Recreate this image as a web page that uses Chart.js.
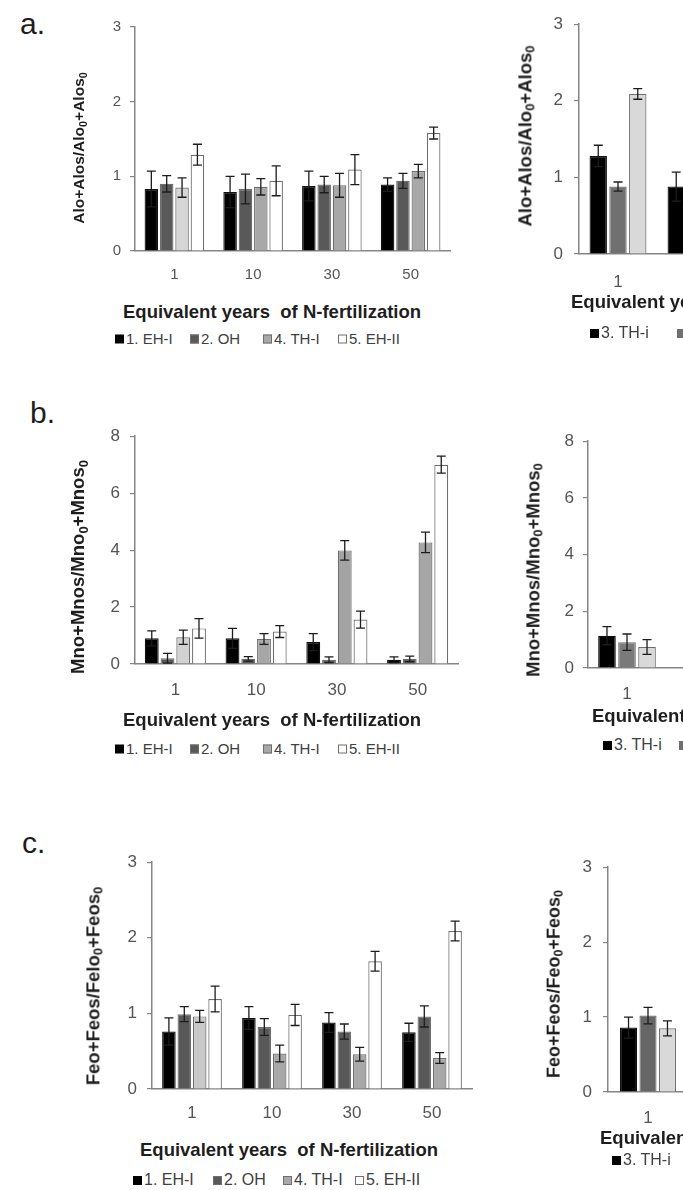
<!DOCTYPE html>
<html>
<head>
<meta charset="utf-8">
<script src="https://cdn.jsdelivr.net/npm/chart.js@4.4.1/dist/chart.umd.min.js"></script>
<style>
html, body { margin: 0; padding: 0; overflow: hidden; background: #fff; }
body { width: 683px; height: 1190px; position: relative; font-family: "Liberation Sans", Arial, sans-serif; }
canvas { position: absolute; }
.t { position: absolute; white-space: nowrap; line-height: 1; color: #1e1e1e; }
.letter { font-size: 30px; }
.xt { font-weight: bold; transform: translateY(-50%); }
.yt { font-weight: bold; transform: translate(-50%, -50%) rotate(-90deg); }
.yt sub { font-size: 0.7em; vertical-align: -0.25em; }
.leg { font-size: 15px; color: #404040; transform: translateY(-50%); }
.leg i { display: inline-block; width: 9px; height: 9px; margin-right: 2px; box-sizing: border-box; vertical-align: 0; }
</style>
</head>
<body>

<div class="t letter" style="left:20px;top:9px">a.</div>
<div class="t letter" style="left:30px;top:398px">b.</div>
<div class="t letter" style="left:22px;top:828px">c.</div>

<canvas id="aLeft"></canvas>
<canvas id="aRight"></canvas>
<canvas id="bLeft"></canvas>
<canvas id="bRight"></canvas>
<canvas id="cLeft"></canvas>
<canvas id="cRight"></canvas>

<div class="t yt" style="left:80px;top:148px;font-size:15.5px">Alo+Alos/Alo<sub>0</sub>+Alos<sub>0</sub></div>
<div class="t yt" style="left:527px;top:136px;font-size:18.5px">Alo+Alos/Alo<sub>0</sub>+Alos<sub>0</sub></div>
<div class="t yt" style="left:80px;top:567px;font-size:18.5px">Mno+Mnos/Mno<sub>0</sub>+Mnos<sub>0</sub></div>
<div class="t yt" style="left:535px;top:570px;font-size:18.5px">Mno+Mnos/Mno<sub>0</sub>+Mnos<sub>0</sub></div>
<div class="t yt" style="left:95px;top:986px;font-size:18.5px">Feo+Feos/Felo<sub>0</sub>+Feos<sub>0</sub></div>
<div class="t yt" style="left:555px;top:984px;font-size:18px">Feo+Feos/Feo<sub>0</sub>+Feos<sub>0</sub></div>

<div class="t xt" style="left:123px;top:312px;font-size:18.5px">Equivalent years&nbsp; of N-fertilization</div>
<div class="t xt" style="left:571px;top:302px;font-size:18.5px">Equivalent years&nbsp; of N-fertilization</div>
<div class="t xt" style="left:123px;top:720px;font-size:18.5px">Equivalent years&nbsp; of N-fertilization</div>
<div class="t xt" style="left:592px;top:716px;font-size:18.5px">Equivalent years&nbsp; of N-fertilization</div>
<div class="t xt" style="left:140px;top:1150px;font-size:18.5px">Equivalent years&nbsp; of N-fertilization</div>
<div class="t xt" style="left:600px;top:1138px;font-size:18.5px">Equivalent years&nbsp; of N-fertilization</div>

<div id="legends"></div>

<script>
/*  Data  */

const YEARS = ["1", "10", "30", "50"];
const LEFT_SITES = ["1. EH-I", "2. OH", "4. TH-I", "5. EH-II"];
const RIGHT_SITES = ["3. TH-i", "", ""];

// a. Alo + Alos
const ALO_EH1 = [0.83, 0.79, 0.87, 0.89];
const ALO_EH1_ERR = [0.24, 0.21, 0.20, 0.09];
const ALO_OH = [0.90, 0.83, 0.89, 0.94];
const ALO_OH_ERR = [0.11, 0.20, 0.11, 0.10];
const ALO_TH1 = [0.85, 0.86, 0.88, 1.07];
const ALO_TH1_ERR = [0.13, 0.11, 0.16, 0.09];
const ALO_EH2 = [1.29, 0.94, 1.09, 1.58];
const ALO_EH2_ERR = [0.14, 0.20, 0.20, 0.08];

const ALO_R1 = [1.28, 0.88, null, null];
const ALO_R1_ERR = [0.14, 0.19, null, null];
const ALO_R2 = [0.88, null, null, null];
const ALO_R2_ERR = [0.06, null, null, null];
const ALO_R3 = [2.09, null, null, null];
const ALO_R3_ERR = [0.07, null, null, null];

// b. Mno + Mnos
const MNO_EH1 = [0.90, 0.90, 0.77, 0.15];
const MNO_EH1_ERR = [0.26, 0.35, 0.30, 0.10];
const MNO_OH = [0.20, 0.18, 0.15, 0.18];
const MNO_OH_ERR = [0.17, 0.08, 0.10, 0.10];
const MNO_TH1 = [0.94, 0.88, 3.99, 4.27];
const MNO_TH1_ERR = [0.25, 0.19, 0.34, 0.36];
const MNO_EH2 = [1.25, 1.14, 1.56, 7.00];
const MNO_EH2_ERR = [0.34, 0.21, 0.30, 0.30];

const MNO_R1 = [1.14, null, null, null];
const MNO_R1_ERR = [0.32, null, null, null];
const MNO_R2 = [0.91, null, null, null];
const MNO_R2_ERR = [0.29, null, null, null];
const MNO_R3 = [0.74, null, null, null];
const MNO_R3_ERR = [0.26, null, null, null];

// c. Feo + Feos
const FEO_EH1 = [0.76, 0.94, 0.88, 0.75];
const FEO_EH1_ERR = [0.18, 0.15, 0.13, 0.12];
const FEO_OH = [0.99, 0.82, 0.76, 0.96];
const FEO_OH_ERR = [0.10, 0.11, 0.10, 0.14];
const FEO_TH1 = [0.96, 0.47, 0.46, 0.41];
const FEO_TH1_ERR = [0.08, 0.11, 0.09, 0.07];
const FEO_EH2 = [1.19, 0.98, 1.69, 2.09];
const FEO_EH2_ERR = [0.17, 0.14, 0.13, 0.13];

const FEO_R1 = [0.86, null, null, null];
const FEO_R1_ERR = [0.14, null, null, null];
const FEO_R2 = [1.02, null, null, null];
const FEO_R2_ERR = [0.11, null, null, null];
const FEO_R3 = [0.85, null, null, null];
const FEO_R3_ERR = [0.10, null, null, null];


/*  Styles  */

const BLACK = "#000000";
const DARK = "#595959";
const MID = "#a8a8a8";
const LIGHT = "#d6d6d6";
const WHITE = "#ffffff";
const EDGE = "#6e6e6e";
const AXIS = "#858585";
const TICK_TXT = "#555555";
const FONT = "'Liberation Sans', Arial, sans-serif";


/*  Error bars  */

const errorBars = {
    id: "errorBars",
    afterDatasetsDraw(chart) {
        const ctx = chart.ctx;
        const y = chart.scales.y;
        ctx.save();
        ctx.strokeStyle = "#1c1c1c";
        ctx.lineWidth = 1.3;
        chart.data.datasets.forEach((ds, i) => {
            const meta = chart.getDatasetMeta(i);
            meta.data.forEach((bar, j) => {
                const v = ds.data[j], e = ds.err ? ds.err[j] : null;
                if (v == null || e == null) return;
                const yt = y.getPixelForValue(v + e);
                const yb = y.getPixelForValue(Math.max(0, v - e));
                const x = bar.x, w = 4.5;
                ctx.beginPath();
                ctx.moveTo(x, yt); ctx.lineTo(x, yb);
                ctx.moveTo(x - w, yt); ctx.lineTo(x + w, yt);
                ctx.moveTo(x - w, yb); ctx.lineTo(x + w, yb);
                ctx.stroke();
            });
        });
        ctx.restore();
    }
};


/*  Graphique  */

function series(label, data, err, color) {
    return {
        label: label,
        data: data,
        err: err,
        backgroundColor: color,
        borderColor: Array.isArray(color) ? EDGE : (color === BLACK ? "#111" : EDGE),
        borderWidth: 1.2
    };
}

function barChart(id, box, yMax, yStep, datasets, catPct, fs) {
    const padL = 70, padT = 12, padR = 10, padB = 45;
    const cv = document.getElementById(id);
    cv.width = box.R - box.L + padL + padR;
    cv.height = box.B - box.T + padT + padB;
    cv.style.left = (box.L - padL) + "px";
    cv.style.top = (box.T - padT) + "px";

    new Chart(cv, {
        type: "bar",
        data: { labels: YEARS, datasets: datasets },
        options: {
            responsive: false,
            animation: false,
            devicePixelRatio: 1,
            layout: { padding: { left: 0, top: padT, right: padR, bottom: 0 } },
            plugins: { legend: { display: false }, tooltip: { enabled: false } },
            datasets: { bar: { categoryPercentage: catPct, barPercentage: 0.88 } },
            scales: {
                x: {
                    grid: { display: false, drawTicks: false },
                    border: { display: true, color: AXIS, width: 1.5 },
                    ticks: { color: TICK_TXT, font: { family: FONT, size: fs }, padding: box.xPad },
                    afterFit: s => { s.height = padB; }
                },
                y: {
                    min: 0, max: yMax,
                    grid: { drawOnChartArea: false, drawTicks: true, tickLength: 5, color: AXIS, lineWidth: 1.2 },
                    border: { display: true, color: AXIS, width: 1.5 },
                    ticks: { stepSize: yStep, color: TICK_TXT, font: { family: FONT, size: fs }, padding: box.yPad },
                    afterFit: s => { s.width = padL; }
                }
            }
        },
        plugins: [errorBars]
    });
}

barChart("aLeft", { L: 135, T: 21, B: 251, R: 450, xPad: 15, yPad: 9 }, 3, 1, [
    series(LEFT_SITES[0], ALO_EH1, ALO_EH1_ERR, BLACK),
    series(LEFT_SITES[1], ALO_OH, ALO_OH_ERR, DARK),
    series(LEFT_SITES[2], ALO_TH1, ALO_TH1_ERR, [LIGHT, MID, MID, MID]),
    series(LEFT_SITES[3], ALO_EH2, ALO_EH2_ERR, WHITE)
], 0.78, 15);

barChart("aRight", { L: 579, T: 15, B: 254, R: 891, xPad: 18, yPad: 11 }, 3, 1, [
    series(RIGHT_SITES[0], ALO_R1, ALO_R1_ERR, BLACK),
    series(RIGHT_SITES[1], ALO_R2, ALO_R2_ERR, "#707070"),
    series(RIGHT_SITES[2], ALO_R3, ALO_R3_ERR, "#d9d9d9")
], 0.76, 17);

barChart("bLeft", { L: 135, T: 428, B: 664, R: 458, xPad: 16, yPad: 10 }, 8, 2, [
    series(LEFT_SITES[0], MNO_EH1, MNO_EH1_ERR, BLACK),
    series(LEFT_SITES[1], MNO_OH, MNO_OH_ERR, DARK),
    series(LEFT_SITES[2], MNO_TH1, MNO_TH1_ERR, ["#d2d2d2", "#a6a6a6", "#a3a3a3", "#a6a6a6"]),
    series(LEFT_SITES[3], MNO_EH2, MNO_EH2_ERR, WHITE)
], 0.78, 17);

barChart("bRight", { L: 588, T: 434, B: 668, R: 900, xPad: 16, yPad: 9 }, 8, 2, [
    series(RIGHT_SITES[0], MNO_R1, MNO_R1_ERR, BLACK),
    series(RIGHT_SITES[1], MNO_R2, MNO_R2_ERR, "#7a7a7a"),
    series(RIGHT_SITES[2], MNO_R3, MNO_R3_ERR, "#d9d9d9")
], 0.77, 17);

barChart("cLeft", { L: 152, T: 854, B: 1089, R: 472, xPad: 14, yPad: 10 }, 3, 1, [
    series(LEFT_SITES[0], FEO_EH1, FEO_EH1_ERR, BLACK),
    series(LEFT_SITES[1], FEO_OH, FEO_OH_ERR, DARK),
    series(LEFT_SITES[2], FEO_TH1, FEO_TH1_ERR, ["#c9c9c9", MID, MID, MID]),
    series(LEFT_SITES[3], FEO_EH2, FEO_EH2_ERR, WHITE)
], 0.77, 17);

barChart("cRight", { L: 608, T: 858, B: 1092, R: 928, xPad: 16, yPad: 11 }, 3, 1, [
    series(RIGHT_SITES[0], FEO_R1, FEO_R1_ERR, BLACK),
    series(RIGHT_SITES[1], FEO_R2, FEO_R2_ERR, "#666666"),
    series(RIGHT_SITES[2], FEO_R3, FEO_R3_ERR, "#d9d9d9")
], 0.73, 17);


/*  Legendes  */

function legend(labels, colors, xs, y, fs) {
    let html = "";
    labels.forEach((lab, i) => {
        const c = colors[i];
        const border = c === BLACK ? "none" : "1px solid " + EDGE;
        html += `<div class="t leg" style="left:${xs[i]}px;top:${y}px;font-size:${fs}px">` +
                `<i style="background:${c};border:${border}"></i>${lab}</div>`;
    });
    document.getElementById("legends").innerHTML += html;
}

const LEFT_COLORS = [BLACK, DARK, MID, WHITE];
const RIGHT_COLORS = [BLACK, "#707070", "#d9d9d9"];

legend(LEFT_SITES, LEFT_COLORS, [115, 190, 263, 338], 338, 15);
legend(RIGHT_SITES.slice(0, 2), RIGHT_COLORS, [590, 677], 333, 16);
legend(LEFT_SITES, LEFT_COLORS, [115, 190, 263, 338], 748, 15);
legend(RIGHT_SITES.slice(0, 2), RIGHT_COLORS, [603, 679], 745, 16);
legend(LEFT_SITES, LEFT_COLORS, [133, 213, 283, 355], 1180, 16);
legend(RIGHT_SITES.slice(0, 2), RIGHT_COLORS, [612, 699], 1160, 16);
</script>
</body>
</html>
